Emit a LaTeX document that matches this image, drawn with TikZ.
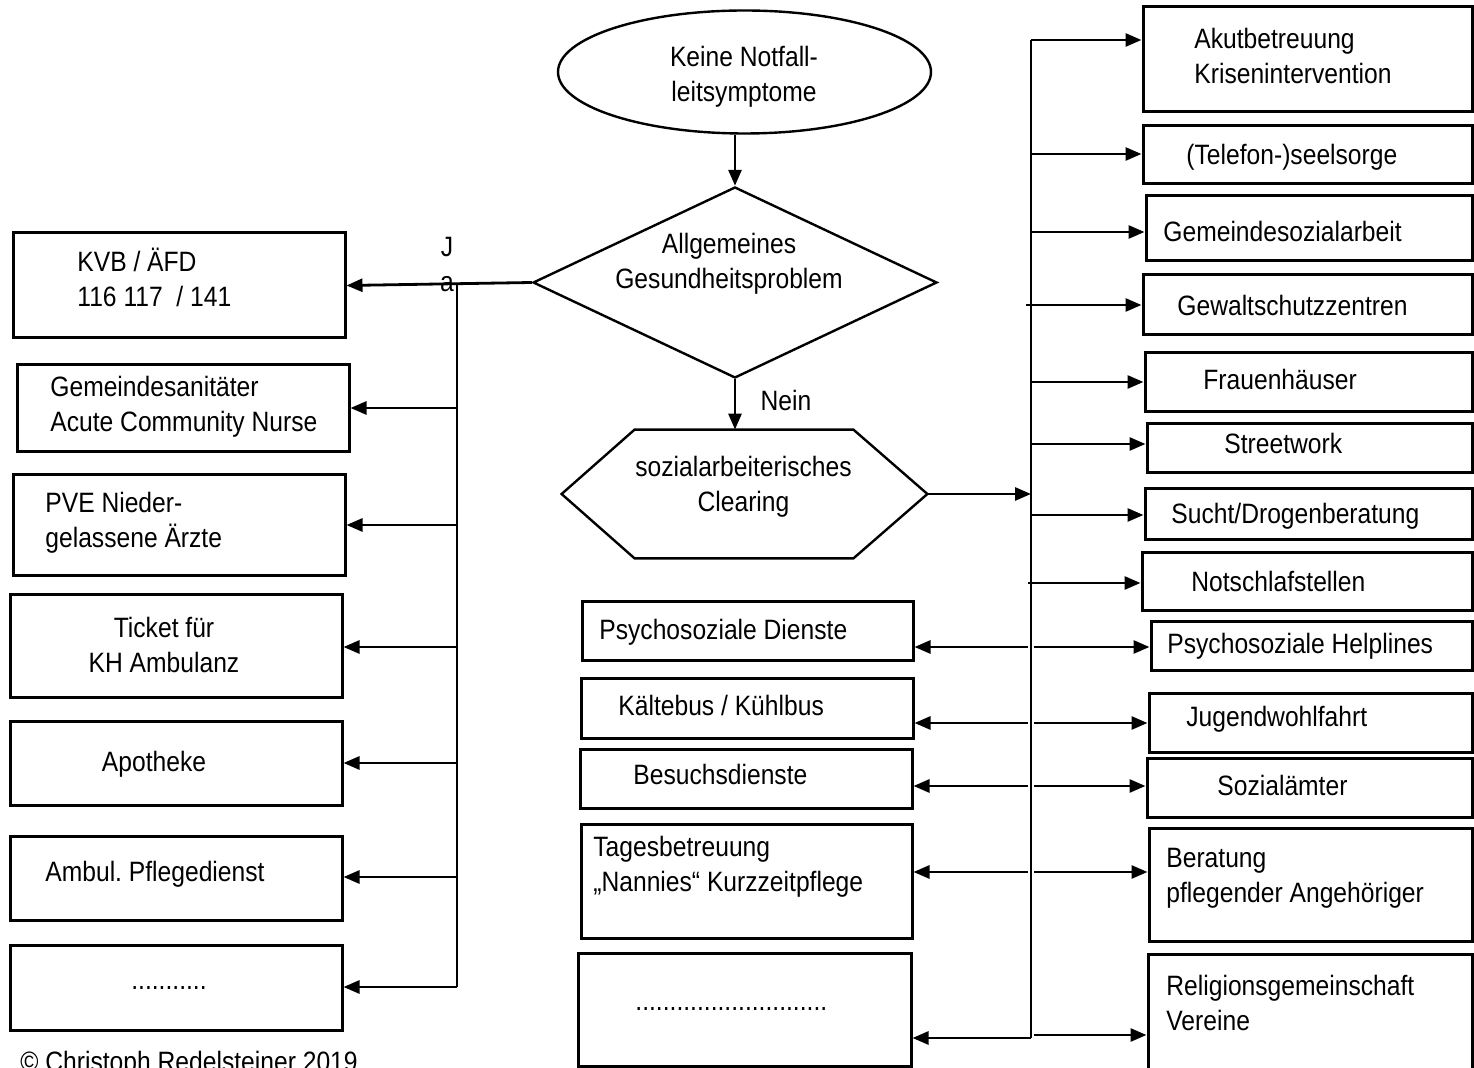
\documentclass[tikz,border=0pt]{standalone}
\usepackage{fontspec}
\setmainfont{Liberation Sans}[FakeStretch=0.88]
\usetikzlibrary{arrows.meta,shapes.geometric,fit,calc}
\frenchspacing
\begin{document}
\begin{tikzpicture}[x=0.5pt,y=-0.5pt,
  every node/.style={font=\fontsize{14pt}{17.5pt}\selectfont},
  box/.style={draw, line width=1.5pt, inner sep=0pt},
  lbl/.style={inner sep=0pt, align=left, anchor=base west},
  clbl/.style={inner sep=0pt, align=center, anchor=base},
  outline/.style={draw, line width=1.2pt, inner sep=0pt},
  arr/.style={line width=1.4pt, -{Triangle[length=8pt,width=6.5pt]}},
  trunk/.style={line width=0.75pt},
]
\useasboundingbox (0,0) rectangle (1474,1068);

% ---------- central decision chain ----------
\node[outline, ellipse, minimum width=186.5pt, minimum height=61.5pt] (ell) at (744.5,72) {};
\node[clbl] (ellt) at (744,102) {Keine Notfall-\\leitsymptome};
\node[outline, diamond, minimum width=202pt, minimum height=95.5pt] (dia) at (735,282.5) {};
\node[clbl] (diat) at (729,289) {Allgemeines\\Gesundheitsproblem};
\node[inner sep=0pt, fit={(562,430) (927,558)}] (clear) {};
\draw[line width=1.2pt] (clear.west) -- ($(clear.north west)+(73,0)$)
  -- ($(clear.north east)+(-74,0)$) -- (clear.east)
  -- ($(clear.south east)+(-74,0)$) -- ($(clear.south west)+(73,0)$) -- cycle;
\node[clbl] (cleart) at (743.5,512) {sozialarbeiterisches\\Clearing};
\node[clbl] (nein) at (786,411) {Nein};
\node[clbl] (ja) at (447,292) {J\\a};

\draw[arr] (dia.north |- ell.south) -- (dia.north);
\draw[arr] (dia.south) -- (dia.south |- clear.north);

% ---------- left column: Ja ----------
\node[box, fit={(13,233) (345,338)}] (kvb) {};
\node[box, fit={(17,365) (349,452)}] (gsan) {};
\node[box, fit={(13,475) (345,576)}] (pve) {};
\node[box, fit={(10,595) (342,698)}] (ticket) {};
\node[box, fit={(10,722) (342,806)}] (apo) {};
\node[box, fit={(10,837) (342,921)}] (ambul) {};
\node[box, fit={(10,946) (342,1031)}] (ldots) {};

\node[lbl] (kvbt) at (77,307) {KVB / ÄFD\\116 117\ \ / 141};
\node[lbl] (gsant) at (50,432) {Gemeindesanitäter\\Acute Community Nurse};
\node[lbl] (pvet) at (45,548) {PVE Nieder-\\gelassene Ärzte};
\node[clbl] (tickett) at (164,673) {Ticket für\\KH Ambulanz};
\node[clbl] (apot) at (154,772) {Apotheke};
\node[lbl] (ambult) at (45,882) {Ambul. Pflegedienst};
\node[clbl] (ldotst) at (169,990) {...........};

\draw[arr] (dia.west) -- (kvb.east);
\coordinate (lt) at (457,283);
\coordinate (lb) at (457,987);
\draw[trunk] (lt) -- (lb);
\coordinate (l1) at (457,408);
\coordinate (l2) at (457,525);
\coordinate (l3) at (457,647);
\coordinate (l4) at (457,763);
\coordinate (l5) at (457,877);
\draw[arr] (l1) -- (l1 -| gsan.east);
\draw[arr] (l2) -- (l2 -| pve.east);
\draw[arr] (l3) -- (l3 -| ticket.east);
\draw[arr] (l4) -- (l4 -| apo.east);
\draw[arr] (l5) -- (l5 -| ambul.east);
\draw[arr] (lb) -- (lb -| ldots.east);

\node[lbl] (copy) at (20,1072) {© Christoph Redelsteiner 2019};

% ---------- middle column ----------
\node[box, fit={(582,602) (913,661)}] (psd) {};
\node[box, fit={(581,679) (913,739)}] (kaelte) {};
\node[box, fit={(580,750) (912,809)}] (besuch) {};
\node[box, fit={(581,825) (912,939)}] (tages) {};
\node[box, fit={(578,954) (911,1067)}] (mdots) {};

\node[lbl] (psdt) at (599,640) {Psychosoziale Dienste};
\node[lbl] (kaeltet) at (618,716) {Kältebus / Kühlbus};
\node[lbl] (besucht) at (633,785) {Besuchsdienste};
\node[lbl] (tagest) at (593,892) {Tagesbetreuung\\„Nannies“ Kurzzeitpflege};
\node[lbl] (mdotst) at (635,1011) {............................};

% ---------- right column ----------
\node[box, fit={(1143,7) (1472,112)}] (akut) {};
\node[box, fit={(1143,126) (1472,184)}] (tel) {};
\node[box, fit={(1146,196) (1472,261)}] (gsoz) {};
\node[box, fit={(1143,275) (1472,335)}] (gewalt) {};
\node[box, fit={(1145,353) (1472,412)}] (frauen) {};
\node[box, fit={(1147,424) (1472,473)}] (street) {};
\node[box, fit={(1145,489) (1472,540)}] (sucht) {};
\node[box, fit={(1142,553) (1472,611)}] (notschl) {};
\node[box, fit={(1151,622) (1472,671)}] (helpl) {};
\node[box, fit={(1149,694) (1472,753)}] (jugend) {};
\node[box, fit={(1147,759) (1472,818)}] (sozamt) {};
\node[box, fit={(1149,829) (1472,942)}] (berat) {};
\node[box, fit={(1148,955) (1472,1085)}] (relig) {};

\node[lbl] (akutt) at (1194,84) {Akutbetreuung\\Krisenintervention};
\node[lbl] (telt) at (1186,165) {(Telefon-)seelsorge};
\node[lbl] (gsozt) at (1163,242) {Gemeindesozialarbeit};
\node[lbl] (gewaltt) at (1177,316) {Gewaltschutzzentren};
\node[lbl] (frauent) at (1203,390) {Frauenhäuser};
\node[lbl] (streett) at (1224,454) {Streetwork};
\node[lbl] (suchtt) at (1171,524) {Sucht/Drogenberatung};
\node[lbl] (notschlt) at (1191,592) {Notschlafstellen};
\node[lbl] (helplt) at (1167,654) {Psychosoziale Helplines};
\node[lbl] (jugendt) at (1186,727) {Jugendwohlfahrt};
\node[lbl] (sozamtt) at (1217,796) {Sozialämter};
\node[lbl] (beratt) at (1166,903) {Beratung\\pflegender Angehöriger};
\node[lbl] (religt) at (1166,1031) {Religionsgemeinschaft\\Vereine};

% ---------- right distribution trunk ----------
\coordinate (rt) at (1031,40);
\coordinate (rb) at (1031,1038);
\draw[trunk] (rt) -- (rb);
\draw[arr] (clear.east) -- (clear.east -| rt);

\coordinate (b2) at (1031,154);
\coordinate (b3) at (1031,232);
\coordinate (b4) at (1026,305);
\coordinate (b5) at (1031,382);
\coordinate (b6) at (1031,444);
\coordinate (b7) at (1031,515);
\coordinate (b8) at (1028,583);
\draw[arr] (rt) -- (rt -| akut.west);
\draw[arr] (b2) -- (b2 -| tel.west);
\draw[arr] (b3) -- (b3 -| gsoz.west);
\draw[arr] (b4) -- (b4 -| gewalt.west);
\draw[arr] (b5) -- (b5 -| frauen.west);
\draw[arr] (b6) -- (b6 -| street.west);
\draw[arr] (b7) -- (b7 -| sucht.west);
\draw[arr] (b8) -- (b8 -| notschl.west);

% two-way rows crossing the trunk
\coordinate (m1) at (1031,647);
\coordinate (m2) at (1031,723);
\coordinate (m3) at (1031,786);
\coordinate (m4) at (1031,872);
\draw[arr] ($(m1)+(-3,0)$) -- (m1 -| psd.east);
\draw[arr] ($(m1)+(3,0)$) -- (m1 -| helpl.west);
\draw[arr] ($(m2)+(-3,0)$) -- (m2 -| kaelte.east);
\draw[arr] ($(m2)+(3,0)$) -- (m2 -| jugend.west);
\draw[arr] ($(m3)+(-3,0)$) -- (m3 -| besuch.east);
\draw[arr] ($(m3)+(3,0)$) -- (m3 -| sozamt.west);
\draw[arr] ($(m4)+(-3,0)$) -- (m4 -| tages.east);
\draw[arr] ($(m4)+(3,0)$) -- (m4 -| berat.west);
\draw[arr] (rb) -- (rb -| mdots.east);
\coordinate (m5) at (1034,1035);
\draw[arr] (m5) -- (m5 -| relig.west);
\end{tikzpicture}
\end{document}
